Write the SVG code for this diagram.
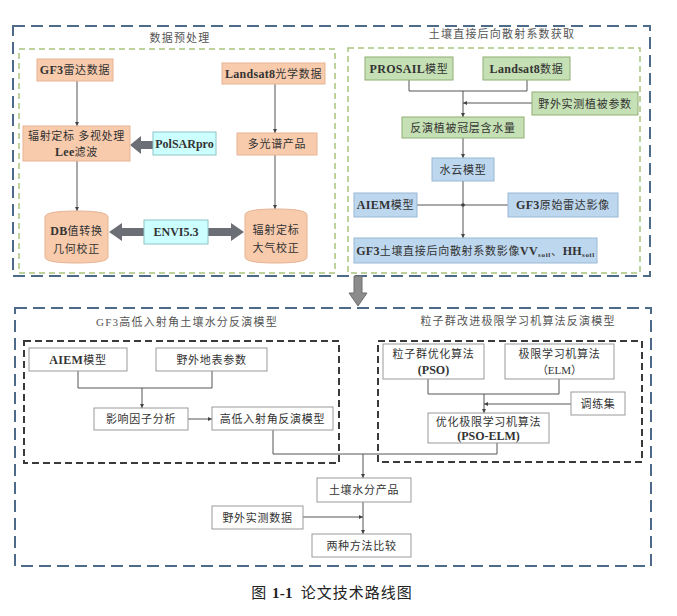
<svg xmlns="http://www.w3.org/2000/svg" width="677" height="616" viewBox="0 0 677 616">
<defs>
<style>
.bg{fill:#ffffff}
.blue{fill:none;stroke:#4d6a88;stroke-width:2;stroke-dasharray:12 6}
.green{fill:none;stroke:#a9c47f;stroke-width:1.5;stroke-dasharray:6 4}
.black{fill:none;stroke:#3a3a3a;stroke-width:2;stroke-dasharray:7 4}
.or{fill:#f8cbad;stroke:#e6b394;stroke-width:1}
.cy{fill:#ccffff;stroke:#8cc4c4;stroke-width:1}
.gr{fill:#c5e0b4;stroke:#8fae74;stroke-width:1}
.bl{fill:#bdd7ee;stroke:#9ab8d4;stroke-width:1}
.wh{fill:#ffffff;stroke:#9a9a9a;stroke-width:1}
text{font-family:"Liberation Serif","Noto Sans CJK SC",serif;font-size:11px;fill:#333;text-anchor:middle;letter-spacing:0.7px}
.t{font-size:11px;fill:#555;letter-spacing:1.2px}
.b{font-weight:bold;font-size:12px;letter-spacing:0.3px}
.n0{letter-spacing:0}
.ln{fill:none;stroke:#555;stroke-width:1}
.thick{fill:#6b6f75}
.big{fill:#8c8c8c;stroke:#6f6f6f;stroke-width:1}
.sub{font-size:7px;font-weight:bold}
.cap{font-size:15px;letter-spacing:1px;fill:#222}
.cap .b{font-size:15px}
</style>
<marker id="ah" viewBox="0 0 6 6" refX="6" refY="3" markerWidth="4" markerHeight="4" orient="auto">
<path d="M0,0 L6,3 L0,6 Z" fill="#444"/>
</marker>
</defs>
<rect class="bg" width="677" height="616"/>

<g id="frames">
<rect class="blue" x="13" y="26" width="637" height="250"/>
<rect class="green" x="19" y="49" width="316" height="224"/>
<rect class="green" x="348" y="48" width="292" height="225"/>
<rect class="blue" x="15" y="308" width="636" height="258"/>
<rect class="black" x="24" y="341" width="315" height="122"/>
<rect class="black" x="378" y="341" width="264" height="121"/>
<text class="t" x="180" y="42">数据预处理</text>
<text class="t" x="502" y="38">土壤直接后向散射系数获取</text>
<text class="t" x="187" y="326">GF3高低入射角土壤水分反演模型</text>
<text class="t" x="518" y="325">粒子群改进极限学习机算法反演模型</text>
</g>

<g id="connectors">
<line class="ln" x1="77" y1="81" x2="77" y2="126" marker-end="url(#ah)"/>
<line class="ln" x1="77" y1="161" x2="77" y2="211" marker-end="url(#ah)"/>
<line class="ln" x1="275" y1="84" x2="275" y2="133" marker-end="url(#ah)"/>
<line class="ln" x1="275" y1="155" x2="275" y2="209" marker-end="url(#ah)"/>
<polygon class="thick" points="153,141 141,141 141,136 130,145 141,154 141,149 153,149"/>
<polygon class="thick" points="144,228 122,228 122,223 109,232 122,241 122,236 144,236"/>
<polygon class="thick" points="208,228 231,228 231,223 244,232 231,241 231,236 208,236"/>
<polyline class="ln" points="409,80 409,91 527,91 527,80"/>
<line class="ln" x1="463" y1="91" x2="463" y2="117" marker-end="url(#ah)"/>
<line class="ln" x1="532" y1="103" x2="463" y2="103" marker-end="url(#ah)"/>
<line class="ln" x1="463" y1="138" x2="463" y2="158" marker-end="url(#ah)"/>
<line class="ln" x1="417" y1="205" x2="508" y2="205"/>
<circle cx="463" cy="205" r="1.8" fill="#333"/>
<line class="ln" x1="463" y1="181" x2="463" y2="238" marker-end="url(#ah)"/>
<polygon class="big" points="354,276 362,276 362,293 367,293 358,306 349,293 354,293"/>
<polyline class="ln" points="78,371 78,388 212,388 212,371"/>
<line class="ln" x1="142" y1="388" x2="142" y2="408" marker-end="url(#ah)"/>
<line class="ln" x1="188" y1="419" x2="212" y2="419" marker-end="url(#ah)"/>
<polyline class="ln" points="273,430 273,454 497,454 497,443"/>
<line class="ln" x1="363" y1="454" x2="363" y2="478" marker-end="url(#ah)"/>
<polyline class="ln" points="428,379 428,394 559,394 559,379"/>
<line class="ln" x1="484" y1="394" x2="484" y2="413" marker-end="url(#ah)"/>
<line class="ln" x1="571" y1="404" x2="484" y2="404" marker-end="url(#ah)"/>
<line class="ln" x1="303" y1="517" x2="363" y2="517" marker-end="url(#ah)"/>
<line class="ln" x1="363" y1="502" x2="363" y2="534" marker-end="url(#ah)"/>
</g>

<g id="n-gf3"><rect class="or" x="37" y="59" width="76" height="22"/><text x="75" y="74"><tspan class="b">GF3</tspan>雷达数据</text></g>
<g id="n-landsat8"><rect class="or" x="222" y="63" width="103" height="21"/><text x="273.5" y="78"><tspan class="b">Landsat8</tspan>光学数据</text></g>
<g id="n-calib"><rect class="or" x="23" y="126" width="107" height="35"/><text x="76.5" y="140">辐射定标 多视处理</text><text x="76.5" y="156"><tspan class="b">Lee</tspan>滤波</text></g>
<g id="n-polsar"><rect class="cy" x="153" y="132" width="63" height="23"/><text x="184.5" y="148" class="b n0">PolSARpro</text></g>
<g id="n-multi"><rect class="or" x="237" y="133" width="80" height="22"/><text x="277" y="148">多光谱产品</text></g>
<g id="n-db"><path class="or" d="M45,217 Q45,211 76.5,211 Q108,211 108,217 V257 Q108,263 76.5,263 Q45,263 45,257 Z"/><text x="76.5" y="235"><tspan class="b">DB</tspan>值转换</text><text x="76.5" y="253">几何校正</text></g>
<g id="n-envi"><rect class="cy" x="144" y="220" width="64" height="24"/><text x="176" y="236" class="b n0">ENVI5.3</text></g>
<g id="n-atm"><path class="or" d="M245,215 Q245,209 276,209 Q307,209 307,215 V257 Q307,263 276,263 Q245,263 245,257 Z"/><text x="276" y="234">辐射定标</text><text x="276" y="252">大气校正</text></g>

<g id="n-prosail"><rect class="gr" x="365" y="57" width="88" height="23"/><text x="409" y="73"><tspan class="b">PROSAIL</tspan>模型</text></g>
<g id="n-landsat8d"><rect class="gr" x="483" y="57" width="87" height="23"/><text x="526.5" y="73"><tspan class="b">Landsat8</tspan>数据</text></g>
<g id="n-fieldveg"><rect class="gr" x="532" y="92" width="106" height="23"/><text x="585" y="108">野外实测植被参数</text></g>
<g id="n-vwc"><rect class="gr" x="402" y="117" width="122" height="21"/><text x="463" y="132">反演植被冠层含水量</text></g>
<g id="n-wcm"><rect class="bl" x="432" y="158" width="62" height="23"/><text x="463" y="174">水云模型</text></g>
<g id="n-aiem1"><rect class="bl" x="354" y="193" width="63" height="24"/><text x="385.5" y="209"><tspan class="b">AIEM</tspan>模型</text></g>
<g id="n-gf3raw"><rect class="bl" x="508" y="193" width="110" height="24"/><text x="563" y="209"><tspan class="b">GF3</tspan>原始雷达影像</text></g>
<g id="n-soilbs"><rect class="bl" x="354" y="238" width="243" height="25"/><text x="475.5" y="255"><tspan class="b">GF3</tspan>土壤直接后向散射系数影像<tspan class="b">VV</tspan><tspan class="sub" dy="2">soil</tspan><tspan dy="-2">、</tspan><tspan class="b">HH</tspan><tspan class="sub" dy="2">soil</tspan></text></g>

<g id="n-aiem2"><rect class="wh" x="29" y="348" width="98" height="23"/><text x="78" y="364"><tspan class="b">AIEM</tspan>模型</text></g>
<g id="n-fieldsurf"><rect class="wh" x="156" y="348" width="111" height="23"/><text x="211.5" y="364">野外地表参数</text></g>
<g id="n-factor"><rect class="wh" x="94" y="408" width="94" height="22"/><text x="141" y="423">影响因子分析</text></g>
<g id="n-hilo"><rect class="wh" x="212" y="407" width="121" height="23"/><text x="272.5" y="423">高低入射角反演模型</text></g>
<g id="n-pso"><rect class="wh" x="383" y="344" width="101" height="35"/><text x="433.5" y="358">粒子群优化算法</text><text x="433.5" y="374" class="b n0">(PSO)</text></g>
<g id="n-elm"><rect class="wh" x="505" y="344" width="109" height="35"/><text x="559.5" y="358">极限学习机算法</text><text x="559.5" y="374" class="n0">（ELM）</text></g>
<g id="n-train"><rect class="wh" x="571" y="392" width="54" height="23"/><text x="598" y="408">调练集</text></g>
<g id="n-psoelm"><rect class="wh" x="428" y="413" width="121" height="30"/><text x="488.5" y="426">优化极限学习机算法</text><text x="488.5" y="440" class="b n0">(PSO-ELM)</text></g>
<g id="n-product"><rect class="wh" x="317" y="478" width="94" height="24"/><text x="364" y="494">土壤水分产品</text></g>
<g id="n-fielddata"><rect class="wh" x="212" y="506" width="91" height="23"/><text x="257.5" y="522">野外实测数据</text></g>
<g id="n-compare"><rect class="wh" x="312" y="534" width="99" height="23"/><text x="361.5" y="550">两种方法比较</text></g>

<text class="cap" x="332" y="598">图 <tspan class="b">1-1</tspan><tspan dx="8">论文技术路线图</tspan></text>
</svg>
